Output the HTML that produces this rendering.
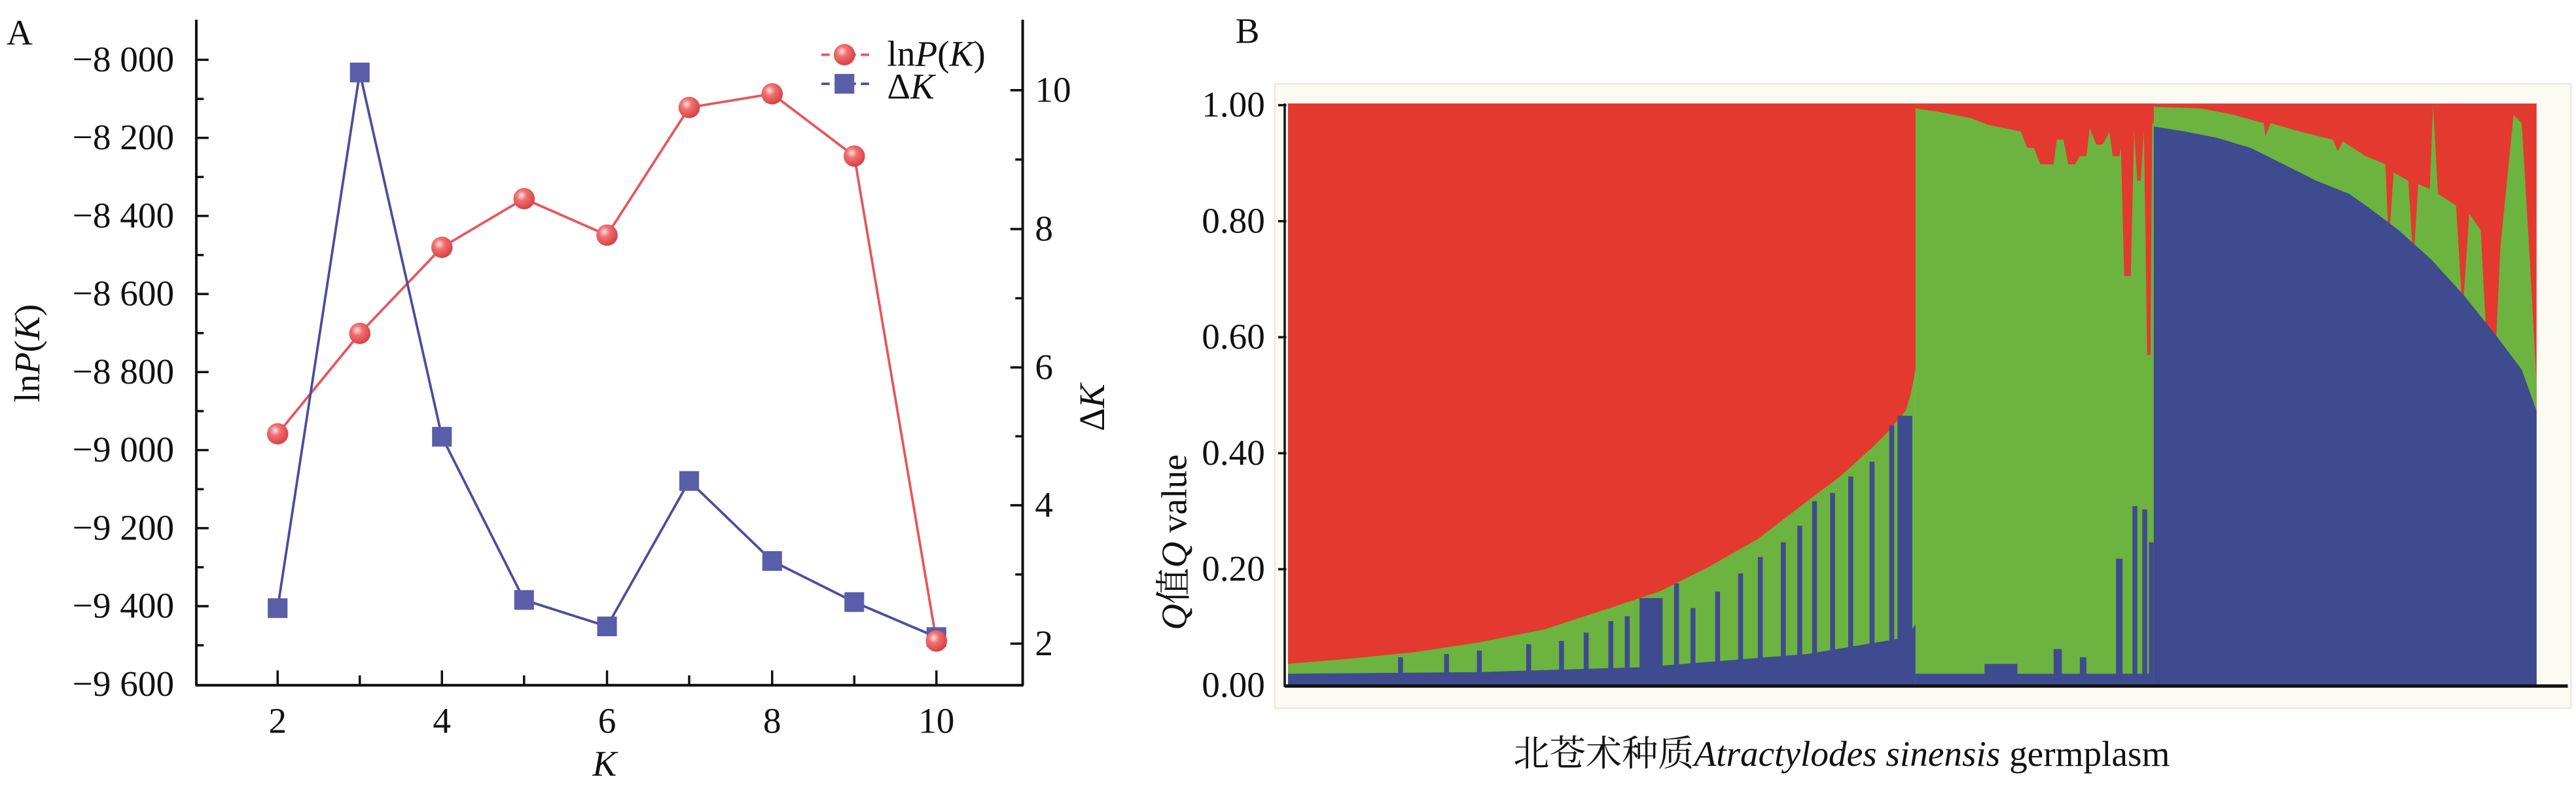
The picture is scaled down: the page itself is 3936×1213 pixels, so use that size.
<!DOCTYPE html>
<html><head><meta charset="utf-8"><style>
html,body{margin:0;padding:0;background:#fff;}
svg{display:block;}
text{font-family:"Liberation Serif","Noto Serif CJK SC",serif;fill:#111;}
</style></head><body>
<svg width="3936" height="1213" viewBox="0 0 1568 483.2" preserveAspectRatio="none" xmlns="http://www.w3.org/2000/svg">
<!-- Panel A -->
<text x="4" y="27" font-size="22">A</text>
<g stroke="#111" stroke-width="1.6" fill="none">
<line x1="119.5" y1="12" x2="119.5" y2="417"/>
<line x1="622.5" y1="12" x2="622.5" y2="417"/>
<line x1="119" y1="417" x2="623" y2="417"/>
</g>
<g stroke="#111" stroke-width="1.4">
<line x1="120" y1="36.4" x2="127" y2="36.4"/><line x1="120" y1="60.2" x2="124" y2="60.2"/>
<line x1="120" y1="83.9" x2="127" y2="83.9"/><line x1="120" y1="107.7" x2="124" y2="107.7"/>
<line x1="120" y1="131.4" x2="127" y2="131.4"/><line x1="120" y1="155.2" x2="124" y2="155.2"/>
<line x1="120" y1="178.9" x2="127" y2="178.9"/><line x1="120" y1="202.7" x2="124" y2="202.7"/>
<line x1="120" y1="226.4" x2="127" y2="226.4"/><line x1="120" y1="250.2" x2="124" y2="250.2"/>
<line x1="120" y1="273.9" x2="127" y2="273.9"/><line x1="120" y1="297.7" x2="124" y2="297.7"/>
<line x1="120" y1="321.4" x2="127" y2="321.4"/><line x1="120" y1="345.2" x2="124" y2="345.2"/>
<line x1="120" y1="368.9" x2="127" y2="368.9"/><line x1="120" y1="392.7" x2="124" y2="392.7"/>
<line x1="622" y1="54.9" x2="615" y2="54.9"/><line x1="622" y1="97.1" x2="618" y2="97.1"/>
<line x1="622" y1="139.4" x2="615" y2="139.4"/><line x1="622" y1="181.5" x2="618" y2="181.5"/>
<line x1="622" y1="223.6" x2="615" y2="223.6"/><line x1="622" y1="265.5" x2="618" y2="265.5"/>
<line x1="622" y1="307.5" x2="615" y2="307.5"/><line x1="622" y1="349.6" x2="618" y2="349.6"/>
<line x1="622" y1="391.7" x2="615" y2="391.7"/>
<line x1="169" y1="417" x2="169" y2="408"/><line x1="219" y1="417" x2="219" y2="411"/>
<line x1="269" y1="417" x2="269" y2="408"/><line x1="319" y1="417" x2="319" y2="411"/>
<line x1="369.5" y1="417" x2="369.5" y2="408"/><line x1="419.5" y1="417" x2="419.5" y2="411"/>
<line x1="470" y1="417" x2="470" y2="408"/><line x1="520" y1="417" x2="520" y2="411"/>
<line x1="570" y1="417" x2="570" y2="408"/>
</g>
<g font-size="22" text-anchor="end">
<text x="106" y="43.4">−8 000</text><text x="106" y="90.9">−8 200</text>
<text x="106" y="138.4">−8 400</text><text x="106" y="185.9">−8 600</text>
<text x="106" y="233.4">−8 800</text><text x="106" y="280.9">−9 000</text>
<text x="106" y="328.4">−9 200</text><text x="106" y="375.9">−9 400</text>
<text x="106" y="423.4">−9 600</text>
</g>
<g font-size="22" text-anchor="start">
<text x="630" y="61.9">10</text><text x="630" y="146.4">8</text>
<text x="630" y="230.6">6</text><text x="630" y="314.5">4</text>
<text x="630" y="398.7">2</text>
</g>
<g font-size="22" text-anchor="middle">
<text x="169" y="446">2</text><text x="269" y="446">4</text><text x="369.5" y="446">6</text>
<text x="470" y="446">8</text><text x="570" y="446">10</text>
<text x="368" y="472" font-style="italic">K</text>
</g>
<text transform="translate(24,215) rotate(-90)" font-size="22" text-anchor="middle">ln<tspan font-style="italic">P</tspan>(<tspan font-style="italic">K</tspan>)</text>
<text transform="translate(672,248) rotate(-90)" font-size="22" text-anchor="middle">Δ<tspan font-style="italic">K</tspan></text>
<polyline fill="none" stroke="#e8555a" stroke-width="1.5" points="169,264 219,202.9 269,150.5 319,120.9 369.5,143.1 419.5,65.4 470,57.1 520,95 570,390.1"/>
<polyline fill="none" stroke="#4a4e9c" stroke-width="1.5" points="169,370.1 219,44.1 269,265.8 319,365.1 369.5,381.2 419.5,292.7 470,341.4 520,366.4 570,387.7"/>
<defs><radialGradient id="g" cx="0.38" cy="0.35" r="0.7"><stop offset="0" stop-color="#fde0e0"/><stop offset="0.35" stop-color="#f07070"/><stop offset="1" stop-color="#d63c40"/></radialGradient></defs>
<g fill="#5a5ea8">
<rect x="163" y="364.1" width="12" height="12"/><rect x="213" y="38.1" width="12" height="12"/>
<rect x="263" y="259.8" width="12" height="12"/><rect x="313" y="359.1" width="12" height="12"/>
<rect x="363.5" y="375.2" width="12" height="12"/><rect x="413.5" y="286.7" width="12" height="12"/>
<rect x="464" y="335.4" width="12" height="12"/><rect x="514" y="360.4" width="12" height="12"/>
<rect x="564" y="381.7" width="12" height="12"/>
</g>
<g fill="url(#g)">
<circle cx="169" cy="264" r="6.5"/><circle cx="219" cy="202.9" r="6.5"/><circle cx="269" cy="150.5" r="6.5"/>
<circle cx="319" cy="120.9" r="6.5"/><circle cx="369.5" cy="143.1" r="6.5"/><circle cx="419.5" cy="65.4" r="6.5"/>
<circle cx="470" cy="57.1" r="6.5"/><circle cx="520" cy="95" r="6.5"/><circle cx="570" cy="390.1" r="6.5"/>
</g>
<line x1="500" y1="33.3" x2="531" y2="33.3" stroke="#e8555a" stroke-width="1.5" stroke-dasharray="5,3"/>
<circle cx="514" cy="33.3" r="6.5" fill="url(#g)"/>
<line x1="500" y1="51" x2="531" y2="51" stroke="#4a4e9c" stroke-width="1.5" stroke-dasharray="5,3"/>
<rect x="508" y="45" width="12" height="12" fill="#5a5ea8"/>
<text x="540" y="40" font-size="22">ln<tspan font-style="italic">P</tspan>(<tspan font-style="italic">K</tspan>)</text>
<text x="540" y="60" font-size="22">Δ<tspan font-style="italic">K</tspan></text>

<!-- Panel B -->
<text x="752" y="26" font-size="22">B</text>
<rect x="776" y="51" width="789" height="380" fill="#fbfaf3" stroke="#ece9dc" stroke-width="1"/>
<!-- region 1 -->
<rect x="784" y="63" width="382" height="355" fill="#6db33f"/>
<polygon fill="#e3392f" points="784,63 1166,63 1166,225 1163,240 1160,250 1150,262 1140,272 1120,290 1100,305 1070,328 1040,345 1010,360 980,370 940,383 900,391 860,397 820,401 784,404"/>
<g fill="#3f4b8f">
<polygon points="784,418 784,410 900,409 1000,406 1100,398 1160,388 1166,380 1166,418"/>
<rect x="851" y="400" width="3" height="18"/><rect x="879" y="398" width="3" height="20"/>
<rect x="899" y="396" width="3" height="22"/><rect x="929" y="392" width="3" height="26"/>
<rect x="949" y="390" width="3" height="28"/><rect x="964" y="385" width="3" height="33"/>
<rect x="979" y="378" width="3" height="40"/><rect x="989" y="375" width="3" height="43"/>
<rect x="998" y="364" width="14" height="54"/><rect x="1019" y="355" width="3" height="63"/>
<rect x="1029" y="370" width="3" height="48"/><rect x="1044" y="360" width="3" height="58"/>
<rect x="1058" y="349" width="3" height="69"/><rect x="1070" y="339" width="3" height="79"/>
<rect x="1084" y="330" width="3" height="88"/><rect x="1094" y="320" width="3" height="98"/>
<rect x="1103" y="305" width="3" height="113"/><rect x="1114" y="300" width="3" height="118"/>
<rect x="1125" y="290" width="3" height="128"/><rect x="1138" y="281" width="3" height="137"/>
<rect x="1150" y="259" width="3" height="159"/><rect x="1155" y="253" width="9" height="165"/>
</g>
<!-- region 2 -->
<rect x="1166" y="63" width="146" height="355" fill="#6db33f"/>
<polygon fill="#e3392f" points="1166,63 1312,63 1312,75 1310,75 1309,216 1307,216 1305,80 1303,110 1301,110 1299,80 1297,168 1293,168 1291,90 1290,95 1286,95 1284,80 1280,88 1276,88 1272,78 1270,95 1266,95 1263,100 1259,100 1256,85 1252,85 1250,100 1242,100 1238,90 1234,90 1230,80 1210,76 1200,72 1180,68 1166,66"/>
<g fill="#3f4b8f">
<rect x="1166" y="410" width="146" height="8"/>
<rect x="1208" y="404" width="20" height="14"/>
<rect x="1250" y="395" width="5" height="23"/><rect x="1266" y="400" width="4" height="18"/>
<rect x="1288" y="340" width="4" height="78"/><rect x="1298" y="308" width="3" height="110"/>
<rect x="1304" y="310" width="3" height="108"/><rect x="1308" y="330" width="4" height="88"/>
</g>
<!-- region 3 -->
<rect x="1311" y="63" width="233" height="355" fill="#e3392f"/>
<polygon fill="#6db33f" points="1311,65 1340,66 1360,70 1378,75 1379,83 1382,75 1400,80 1420,85 1423,92 1426,86 1440,95 1452,100 1454,148 1457,105 1466,110 1469,160 1472,112 1479,115 1481,64 1484,118 1495,125 1499,191 1503,130 1510,140 1514,216 1519,216 1522,150 1527,100 1530,70 1535,75 1540,160 1544,234 1544,418 1311,418"/>
<polygon fill="#3f4b8f" points="1311,77 1330,80 1350,84 1370,90 1390,100 1410,110 1430,118 1440,125 1460,140 1480,158 1500,180 1520,205 1535,225 1544,250 1544,418 1311,418"/>
<!-- axes B -->
<line x1="782" y1="63" x2="782" y2="418" stroke="#111" stroke-width="1.4"/>
<line x1="782" y1="417.5" x2="1563" y2="417.5" stroke="#111" stroke-width="2"/>
<g stroke="#111" stroke-width="1.4">
<line x1="778" y1="64" x2="783" y2="64"/><line x1="778" y1="134.6" x2="783" y2="134.6"/>
<line x1="778" y1="205.2" x2="783" y2="205.2"/><line x1="778" y1="275.8" x2="783" y2="275.8"/>
<line x1="778" y1="346.4" x2="783" y2="346.4"/>
</g>
<g font-size="22" text-anchor="end">
<text x="770" y="71">1.00</text><text x="770" y="141.6">0.80</text>
<text x="770" y="212.2">0.60</text><text x="770" y="282.8">0.40</text>
<text x="770" y="353.4">0.20</text><text x="770" y="424">0.00</text>
</g>
<text transform="translate(722,330) rotate(-90)" font-size="22" text-anchor="middle"><tspan font-style="italic">Q</tspan>值<tspan font-style="italic">Q</tspan> value</text>
<text x="1121" y="466" font-size="22" text-anchor="middle">北苍术种质<tspan font-style="italic">Atractylodes sinensis</tspan> germplasm</text>
</svg>
</body></html>
